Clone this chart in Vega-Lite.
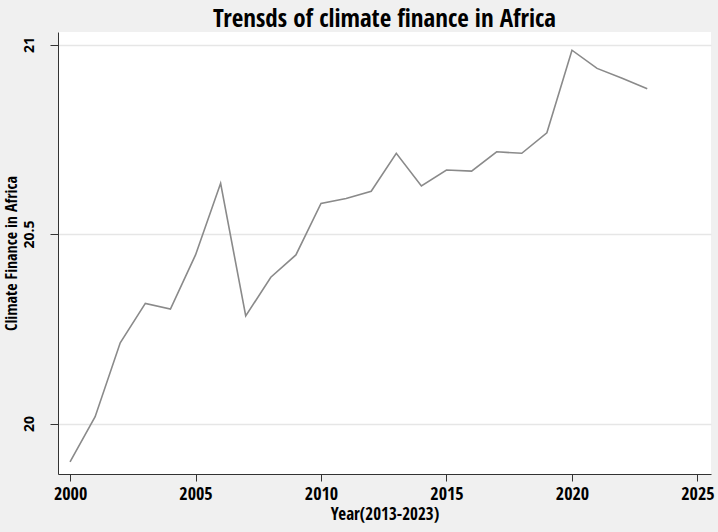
{
  "$schema": "https://vega.github.io/schema/vega-lite/v6.json",
  "autosize": {"type": "none"},
  "width": 653,
  "height": 442,
  "padding": {"left": 58, "top": 32, "right": 7, "bottom": 58},
  "background": "#f0f0f0",
  "title": {
    "text": "Trensds of climate finance in Africa",
    "font": "Open Sans Condensed, Roboto Condensed, DejaVu Sans Condensed, sans-serif",
    "fontSize": 25,
    "fontWeight": "bold",
    "color": "#000000",
    "anchor": "middle",
    "offset": 0
  },
  "config": {
    "view": {"fill": "white", "stroke": null},
    "axis": {
      "labelFont": "Open Sans Condensed, Roboto Condensed, DejaVu Sans Condensed, sans-serif",
      "titleFont": "Open Sans Condensed, Roboto Condensed, DejaVu Sans Condensed, sans-serif",
      "labelFontWeight": "bold",
      "titleFontWeight": "bold",
      "labelColor": "#000000",
      "titleColor": "#000000",
      "domainColor": "#333333",
      "tickColor": "#333333",
      "labelFontSize": 18,
      "titleFontSize": 17
    }
  },
  "data": {
    "values": [
      {"year": 2000, "value": 19.899},
      {"year": 2001, "value": 20.018},
      {"year": 2002, "value": 20.213},
      {"year": 2003, "value": 20.317},
      {"year": 2004, "value": 20.302},
      {"year": 2005, "value": 20.445},
      {"year": 2006, "value": 20.634},
      {"year": 2007, "value": 20.284},
      {"year": 2008, "value": 20.386},
      {"year": 2009, "value": 20.445},
      {"year": 2010, "value": 20.581},
      {"year": 2011, "value": 20.594},
      {"year": 2012, "value": 20.613},
      {"year": 2013, "value": 20.713},
      {"year": 2014, "value": 20.627},
      {"year": 2015, "value": 20.669},
      {"year": 2016, "value": 20.666},
      {"year": 2017, "value": 20.717},
      {"year": 2018, "value": 20.713},
      {"year": 2019, "value": 20.767},
      {"year": 2020, "value": 20.985},
      {"year": 2021, "value": 20.937},
      {"year": 2022, "value": 20.911},
      {"year": 2023, "value": 20.883}
    ]
  },
  "mark": {"type": "line", "color": "#8a8a8a", "strokeWidth": 1.6},
  "encoding": {
    "x": {
      "field": "year",
      "type": "quantitative",
      "scale": {"domain": [1999.52, 2025.54], "nice": false, "zero": false},
      "axis": {
        "values": [2000, 2005, 2010, 2015, 2020, 2025],
        "format": "d",
        "title": "Year(2013-2023)",
        "grid": false,
        "tickSize": 7,
        "labelPadding": 4,
        "titlePadding": 3
      }
    },
    "y": {
      "field": "value",
      "type": "quantitative",
      "scale": {"domain": [19.867, 21.033], "nice": false, "zero": false},
      "axis": {
        "values": [20, 20.5, 21],
        "format": "~g",
        "title": "Climate Finance in Africa",
        "titleFontSize": 16,
        "labelFont": "Open Sans, DejaVu Sans, sans-serif",
        "labelFontSize": 14,
        "grid": true,
        "gridColor": "#e6e6e6",
        "gridWidth": 1.5,
        "tickSize": 8,
        "labelAngle": -90,
        "labelAlign": "center",
        "labelBaseline": "bottom",
        "labelPadding": 14,
        "titlePadding": 3
      }
    }
  }
}
